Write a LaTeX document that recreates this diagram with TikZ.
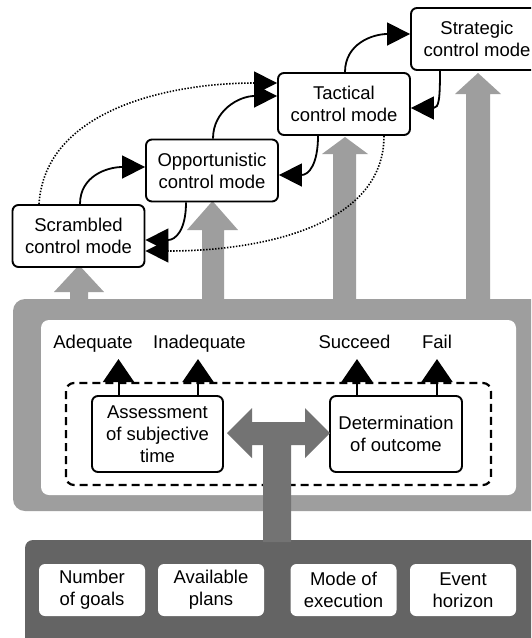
\documentclass[tikz,border=0pt]{standalone}
\usepackage{fontspec}
\setmainfont{Liberation Sans}
\usetikzlibrary{arrows.meta}
\definecolor{lightg}{RGB}{158,158,158}
\definecolor{darkg}{RGB}{100,100,100}
\definecolor{midg}{RGB}{115,115,115}
\tikzset{
  txt/.style={font=\fontsize{18.5}{22}\selectfont, align=center},
  modebox/.style={txt, draw, line width=1.9pt, rounded corners=6pt, fill=white,
    minimum width=132pt, minimum height=62pt, inner sep=0pt},
  procbox/.style={modebox, minimum width=131pt, minimum height=76pt},
  factbox/.style={txt, fill=white, rounded corners=6pt, minimum width=106pt,
    minimum height=52pt, inner sep=0pt},
  curv/.style={line width=1.8pt, -{Triangle[length=23pt,width=23pt]}},
  dott/.style={line width=1.6pt, dash pattern=on 1.4pt off 1.6pt, -{Triangle[length=23pt,width=23pt]}},
  labarr/.style={line width=2pt, -{Triangle[length=23pt,width=31pt]}},
  lab/.style={txt, anchor=base, inner sep=0pt}
}
\begin{document}
\begin{tikzpicture}[x=1pt,y=-1pt]
\clip (0,0) rectangle (531,638);
\fill[white] (0,0) rectangle (531,638);

% grey frame
\fill[lightg, rounded corners=12pt] (13,299) rectangle (560,511);
\fill[white, rounded corners=8pt] (41,320) rectangle (516,495);

% grey upward arrows
\fill[lightg] (70,305) -- (70,292) -- (54,292) -- (79,265) -- (104,292) -- (88,292) -- (88,305) -- cycle;
\fill[lightg] (202,305) -- (202,230) -- (187,230) -- (212.5,201) -- (238,230) -- (224,230) -- (224,305) -- cycle;
\fill[lightg] (333,305) -- (333,154) -- (322,154) -- (345,137) -- (368,154) -- (356,154) -- (356,305) -- cycle;
\fill[lightg] (466,305) -- (466,94) -- (455,94) -- (478,73) -- (501,94) -- (490,94) -- (490,305) -- cycle;

% dashed region
\draw[line width=2.2pt, dash pattern=on 8pt off 5pt, rounded corners=8pt] (66,383) rectangle (491,485);

% process boxes
\node[procbox] (assess) at (157.5,434) {Assessment\\of subjective\\time};
\node[procbox, minimum width=132pt] (determ) at (396,434) {Determination\\of outcome};

% labels
\node[lab] (adeq) at (93,348) {Adequate};
\node[lab] (inadeq) at (199.5,348) {Inadequate};
\node[lab] (succ) at (354.5,348) {Succeed};
\node[lab] (fail) at (437,348) {Fail};

\draw[labarr] ([xshift=-39pt]assess.north) -- ([xshift=-39pt,yshift=36pt]assess.north);
\draw[labarr] ([xshift=40.5pt]assess.north) -- ([xshift=40.5pt,yshift=36pt]assess.north);
\draw[labarr] ([xshift=-39pt]determ.north) -- ([xshift=-39pt,yshift=36pt]determ.north);
\draw[labarr] ([xshift=41pt]determ.north) -- ([xshift=41pt,yshift=36pt]determ.north);

% dark box
\fill[darkg, rounded corners=8pt] (25,540) rectangle (560,680);

% double-headed arrow with stem
\fill[midg] (227,433) -- (252,408) -- (252,422) -- (305,422) -- (305,408) -- (330,433)
  -- (305,458) -- (305,445) -- (291,445) -- (291,542) -- (263,542) -- (263,445)
  -- (252,445) -- (252,458) -- cycle;

% factor boxes
\node[factbox] (goals) at (92,590) {Number\\of goals};
\node[factbox] (plans) at (211,590) {Available\\plans};
\node[factbox] (exec) at (343.5,590) {Mode of\\execution};
\node[factbox] (horizon) at (463,590) {Event\\horizon};

% control modes
\node[modebox] (scr) at (78.5,236) {Scrambled\\control mode};
\node[modebox] (opp) at (212,170.5) {Opportunistic\\control mode};
\node[modebox] (tact) at (344,104) {Tactical\\control mode};
\node[modebox] (strat) at (477,39) {Strategic\\control mode};

% transitions
\draw[curv] ([xshift=1.5pt]scr.north) .. controls +(0,-28) and +(-38,0) .. ([yshift=3.5pt]opp.west);
\draw[curv] ([xshift=-26pt]opp.south) .. controls +(0,28) and +(30,0) .. ([yshift=-4pt]scr.east);
\draw[curv] ([xshift=1pt]opp.north) .. controls +(0,-28) and +(-38,0) .. ([yshift=8pt]tact.west);
\draw[curv] ([xshift=-26pt]tact.south) .. controls +(0,28) and +(30,0) .. ([yshift=-4.5pt]opp.east);
\draw[curv] ([xshift=1pt]tact.north) .. controls +(0,-28) and +(-38,0) .. ([yshift=5pt]strat.west);
\draw[curv] ([xshift=-37pt]strat.south) .. controls +(0,28) and +(28,0) .. ([yshift=-4pt]tact.east);
\draw[dott] ([xshift=-39.5pt]scr.north) .. controls +(6,-94) and +(-109,0) .. ([yshift=21pt]tact.west);
\draw[dott] ([xshift=40pt]tact.south) .. controls +(0,90) and +(116,0) .. ([yshift=-15pt]scr.east);
\end{tikzpicture}
\end{document}
